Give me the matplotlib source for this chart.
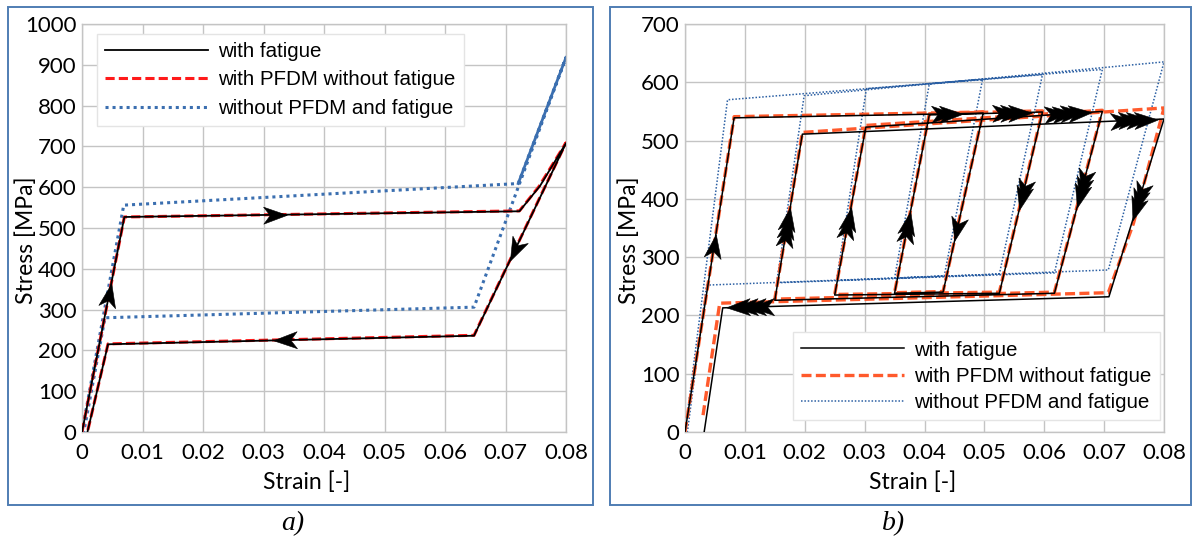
import matplotlib
matplotlib.use('Agg')
import matplotlib.pyplot as plt
import numpy as np
from matplotlib.markers import MarkerStyle
from matplotlib.path import Path
from matplotlib.transforms import Affine2D
from matplotlib.patches import Rectangle

# ---------------- panel a) : single cycle ----------------
strain_a_fat = [0, 0.0070, 0.0723, 0.0757, 0.0800, 0.0648, 0.0043, 0.0009]
stress_a_fat = [0, 527, 541, 603, 708, 236, 215, 0]
strain_a_pfdm = [0, 0.0070, 0.0723, 0.0755, 0.0800, 0.0648, 0.0043, 0.0009]
stress_a_pfdm = [0, 527, 542, 601, 709, 237, 216, 0]
strain_a_nop = [0, 0.0069, 0.0721, 0.0800, 0.0648, 0.0038, 0.0003]
stress_a_nop = [0, 556, 609, 918, 306, 280, 0]
# arrows on the fatigue curve: (segment index, position along segment, number of heads)
arrows_a = [(0, 0.69, 1), (1, 0.41, 1), (4, 0.61, 1), (5, 0.55, 1)]

# ---------------- panel b) : shifting strain window ----------------
strain_b_fat = [0, 0.0082, 0.0498, 0.0431, 0.0350, 0.0408, 0.0597, 0.0525, 0.0250,
                0.0302, 0.0697, 0.0617, 0.0150, 0.0196, 0.0800, 0.0708, 0.0063, 0.0032]
stress_b_fat = [0, 539, 547, 240, 238, 544, 549, 238, 235,
                523, 550, 238, 226, 511, 537, 232, 213, 0]
strain_b_pfdm = [0, 0.0082, 0.0498, 0.0431, 0.0350, 0.0408, 0.0597, 0.0525, 0.0250,
                 0.0302, 0.0697, 0.0617, 0.0150, 0.0196, 0.0800, 0.0749, 0.0707, 0.0058, 0.0030]
stress_b_pfdm = [0, 541, 549, 241, 239, 546, 551, 240, 236,
                 526, 552, 240, 228, 514, 556, 358, 239, 221, 28]
strain_b_nop = [0, 0.0071, 0.0497, 0.0433, 0.0350, 0.0408, 0.0597, 0.0525, 0.0253,
                0.0303, 0.0697, 0.0617, 0.0153, 0.0199, 0.0800, 0.0707, 0.0036, 0.0004]
stress_b_nop = [0, 570, 605, 268, 264, 597, 613, 271, 260,
                589, 622, 273, 256, 577, 635, 278, 252, 0]
arrows_b = [(0, 0.63, 1), (12, 0.56, 3), (8, 0.52, 2), (4, 0.46, 2),
            (1, 0.92, 2), (5, 0.91, 3), (9, 0.957, 4), (13, 0.983, 4),
            (2, 0.71, 1), (6, 0.54, 2), (10, 0.53, 3), (14, 0.57, 3),
            (15, 0.99, 4)]

labels = ['with fatigue', 'with PFDM without fatigue', 'without PFDM and fatigue']

W, H, DPI = 1192, 542, 100
fig = plt.figure(figsize=(W / DPI, H / DPI), dpi=DPI)

HEAD = Path([(1, 0), (-1, 0.72), (-0.45, 0), (-1, -0.72), (1, 0)],
            [Path.MOVETO, Path.LINETO, Path.LINETO, Path.LINETO, Path.CLOSEPOLY])


def draw_arrows(ax, xs, ys, specs, size=17, gap=8):
    size_px = size * DPI / 72
    for i, f, n in specs:
        p0 = np.array([xs[i], ys[i]], float)
        p1 = np.array([xs[i + 1], ys[i + 1]], float)
        tip = p0 + f * (p1 - p0)
        d0, d1, dt = ax.transData.transform([p0, p1, tip])
        d = (d1 - d0) / np.hypot(*(d1 - d0))
        ang = np.degrees(np.arctan2(d[1], d[0]))
        m = MarkerStyle(HEAD, transform=Affine2D().rotate_deg(ang))
        for k in range(n):
            c = dt - d * (size_px / 2 + k * gap)
            cx, cy = ax.transData.inverted().transform(c)
            ax.plot([cx], [cy], marker=m, markersize=size, color='black',
                    mec='black', mew=0.4, zorder=6, linestyle='none')


def setup(ax, ymax, label_x, ylabel_x):
    ax.set_xlim(0, 0.08)
    ax.set_ylim(0, ymax)
    ax.set_xticks(np.arange(0, 0.081, 0.01))
    ax.set_xticklabels(['0'] + ['%.2f' % v for v in np.arange(0.01, 0.081, 0.01)])
    ax.set_yticks(np.arange(0, ymax + 1, 100))
    ax.grid(True, color='#c4c4c4', lw=1.0)
    ax.set_axisbelow(True)
    for s in ax.spines.values():
        s.set_color('#c4c4c4')
        s.set_linewidth(1.0)
    ax.tick_params(length=0, labelsize=16)
    ax.tick_params(axis='x', pad=8)
    ax.tick_params(axis='y', pad=4)
    for t in ax.get_xticklabels() + ax.get_yticklabels():
        t.set_fontfamily('Lato')
    ax.set_xlabel('Strain [-]', fontsize=16.5, fontfamily='Lato')
    ax.set_ylabel('Stress [MPa]', fontsize=16.5, fontfamily='Lato')
    ax.xaxis.set_label_coords(label_x, -0.097)
    ax.yaxis.set_label_coords(ylabel_x, 0.47)


# ---- panel a
ax1 = fig.add_axes([82 / W, 1 - 432 / H, 484 / W, 408 / H])
setup(ax1, 1000, 0.465, -0.092)
ax1.plot(strain_a_nop, stress_a_nop, color='#3b6fb0', lw=2.2, ls=(0, (1, 1.3)),
         zorder=2, label=labels[2])
ax1.plot(strain_a_nop[2:4], stress_a_nop[2:4], color='#3b6fb0', lw=2.0, zorder=2)
ax1.plot(strain_a_pfdm, stress_a_pfdm, color='#ff1a1a', lw=2.2, ls=(0, (3, 1.35)),
         zorder=3, label=labels[1])
ax1.plot(strain_a_fat, stress_a_fat, color='black', lw=1.3, zorder=4, label=labels[0])
draw_arrows(ax1, strain_a_fat, stress_a_fat, arrows_a)
h, l = ax1.get_legend_handles_labels()
order = [l.index(s) for s in labels]
ax1.legend([h[i] for i in order], labels, loc='upper left', bbox_to_anchor=(0.031, 0.9755),
           borderaxespad=0, handlelength=5, handletextpad=0.5, borderpad=0.4,
           labelspacing=0.45, fancybox=False, edgecolor='#e4e4e4', framealpha=1,
           prop={'family': 'Liberation Sans', 'size': 14.8})

# ---- panel b
ax2 = fig.add_axes([685 / W, 1 - 432 / H, 479 / W, 408 / H])
setup(ax2, 700, 0.475, -0.094)
ax2.plot(strain_b_nop, stress_b_nop, color='#2b5fa3', lw=1.1, ls=(0, (1, 1.2)),
         zorder=2, label=labels[2])
ax2.plot(strain_b_pfdm, stress_b_pfdm, color='#ff5a2c', lw=2.4, ls=(0, (3, 1.3)),
         zorder=3, label=labels[1])
ax2.plot(strain_b_fat, stress_b_fat, color='black', lw=1.1, zorder=4, label=labels[0])
draw_arrows(ax2, strain_b_fat, stress_b_fat, arrows_b)
h, l = ax2.get_legend_handles_labels()
order = [l.index(s) for s in labels]
ax2.legend([h[i] for i in order], labels, loc='lower right', bbox_to_anchor=(0.9916, 0.029),
           borderaxespad=0, handlelength=5, handletextpad=0.5, borderpad=0.4,
           labelspacing=0.35, fancybox=False, edgecolor='#e4e4e4', framealpha=1,
           prop={'family': 'Liberation Sans', 'size': 14.8})

# panel frames and captions
for x0, x1 in [(8, 593), (610, 1191)]:
    fig.add_artist(Rectangle((x0 / W, 1 - 505 / H), (x1 - x0) / W, 498 / H,
                             transform=fig.transFigure, fill=False,
                             edgecolor='#4f7db3', lw=1.4))
fig.text(293 / W, 1 - 524 / H, 'a)', ha='center', va='center', fontsize=20,
         fontfamily='Liberation Serif', style='italic')
fig.text(894 / W, 1 - 524 / H, 'b)', ha='center', va='center', fontsize=20,
         fontfamily='Liberation Serif', style='italic')

fig.savefig('out.png', dpi=DPI)
